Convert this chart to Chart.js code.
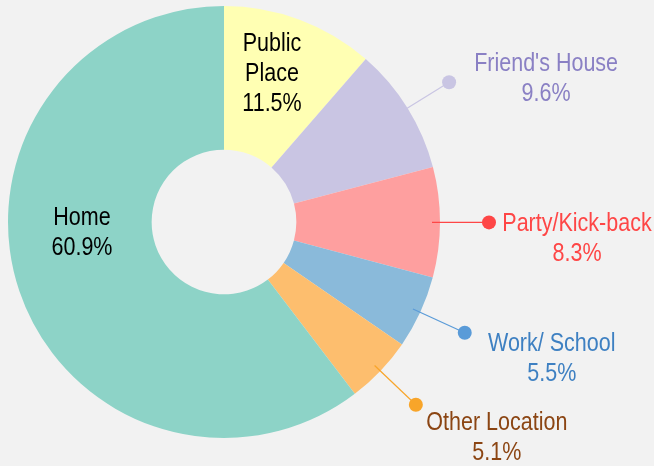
<!DOCTYPE html>
<html>
<head>
<meta charset="utf-8">
<script src="https://cdn.jsdelivr.net/npm/chart.js@4"></script>
<style>
  html, body { margin: 0; padding: 0; background: #f2f2f2; }
  #wrap { width: 654px; height: 466px; }
</style>
</head>
<body>
<div id="wrap"><canvas id="grafik" width="654" height="466"></canvas></div>
<script>
// data
const lokasi = ["Public Place", "Friend's House", "Party/Kick-back", "Work/ School", "Other Location", "Home"];
const persen = [11.5, 9.6, 8.3, 5.5, 5.1, 60.9];
const warnaIrisan = ["#ffffb3", "#c9c5e3", "#fe9f9f", "#8abada", "#fdbe6e", "#8dd3c7"];

// label styling / placement (not data)
const labelBaris = [["Public", "Place"], ["Friend's House"], ["Party/Kick-back"], ["Work/ School"], ["Other Location"], ["Home"]];
const labelDalam = [true, false, false, false, false, true];
const warnaTeks = ["#000000", "#8a80c4", "#fe4646", "#3e80c2", "#8b4513", "#000000"];
const warnaTitik = ["", "#c9c5e3", "#fe4646", "#5a9bd8", "#f8a52a", ""];
// offsets: inner labels relative to center, outer labels relative to dot
const geserLabel = [[48, -148], [97, -3], [88, 17], [87, 26], [81, 33], [-142, 11]];

function tulis(ctx, teks, x, y) {
    ctx.save();
    ctx.translate(x, y);
    ctx.scale(0.86, 1);
    ctx.fillText(teks, 0, 0);
    ctx.restore();
}

const labelPlugin = {
    id: "labelLuar",
    afterDatasetsDraw(chart) {
        const ctx = chart.ctx;
        const meta = chart.getDatasetMeta(0);
        ctx.save();
        ctx.font = "25px 'Liberation Sans', Arial, sans-serif";
        ctx.textAlign = "center";
        ctx.textBaseline = "middle";
        meta.data.forEach(function (arc, i) {
            const cx = arc.x, cy = arc.y;
            const tengah = (arc.startAngle + arc.endAngle) / 2;
            const baris = labelBaris[i].concat([persen[i].toFixed(1) + "%"]);
            let bx, by;
            if (labelDalam[i]) {
                bx = cx + geserLabel[i][0];
                by = cy + geserLabel[i][1];
            } else {
                const r1 = arc.outerRadius - 8;
                const r2 = arc.outerRadius + 49;
                const x1 = cx + Math.cos(tengah) * r1, y1 = cy + Math.sin(tengah) * r1;
                const x2 = cx + Math.cos(tengah) * r2, y2 = cy + Math.sin(tengah) * r2;
                ctx.strokeStyle = warnaTitik[i];
                ctx.lineWidth = 1.2;
                ctx.beginPath();
                ctx.moveTo(x1, y1);
                ctx.lineTo(x2, y2);
                ctx.stroke();
                ctx.fillStyle = warnaTitik[i];
                ctx.beginPath();
                ctx.arc(x2, y2, 7, 0, Math.PI * 2);
                ctx.fill();
                bx = x2 + geserLabel[i][0];
                by = y2 + geserLabel[i][1];
            }
            const tinggi = 30;
            const awal = by - (baris.length - 1) * tinggi / 2;
            ctx.fillStyle = warnaTeks[i];
            baris.forEach(function (t, k) {
                tulis(ctx, t, bx, awal + k * tinggi);
            });
        });
        ctx.restore();
    }
};

new Chart(document.getElementById("grafik"), {
    type: "doughnut",
    data: {
        labels: lokasi,
        datasets: [{
            data: persen,
            backgroundColor: warnaIrisan,
            borderWidth: 0
        }]
    },
    options: {
        responsive: false,
        animation: false,
        cutout: "33.5%",
        layout: { padding: { left: 8, top: 6, right: 214, bottom: 28 } },
        plugins: {
            legend: { display: false },
            tooltip: { enabled: false }
        }
    },
    plugins: [labelPlugin]
});
</script>
</body>
</html>
